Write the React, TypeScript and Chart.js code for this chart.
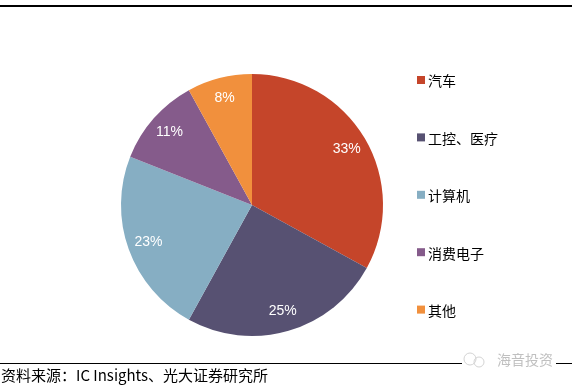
import React, { useEffect, useRef } from "react";
import { Chart, registerables } from "chart.js";

Chart.register(...registerables);

const categories = ["汽车", "工控、医疗", "计算机", "消费电子", "其他"];
const shares = [33, 25, 23, 11, 8];
const colors = ["#C5452A", "#575172", "#86AEC3", "#855B8B", "#F1903D"];
const sourceText = "资料来源：IC Insights、光大证券研究所";
const watermarkText = "海音投资";

const decorPlugin = {
  id: "decor",
  afterDraw(chart: any) {
    const ctx = chart.ctx as CanvasRenderingContext2D;
    const meta = chart.getDatasetMeta(0);
    ctx.save();
    // slice labels
    ctx.fillStyle = "#ffffff";
    ctx.font = "14px 'Liberation Sans', Arial, sans-serif";
    ctx.textAlign = "center";
    ctx.textBaseline = "middle";
    meta.data.forEach((arc: any, i: number) => {
      const p = arc.getProps(["x", "y", "startAngle", "endAngle", "outerRadius"], true);
      const mid = (p.startAngle + p.endAngle) / 2;
      const r = p.outerRadius * 0.84;
      ctx.fillText(shares[i] + "%", p.x + Math.cos(mid) * r, p.y + Math.sin(mid) * r);
    });
    // legend
    const lx = 417;
    const y0 = 80;
    const step = 57.4;
    ctx.textAlign = "left";
    ctx.font = "14px 'Noto Sans CJK SC', sans-serif";
    categories.forEach((c, i) => {
      const y = y0 + step * i;
      ctx.fillStyle = colors[i];
      ctx.fillRect(lx, y - 4, 8, 8);
      ctx.fillStyle = "#000000";
      ctx.fillText(c, lx + 11, y + 1);
    });
    // top rule
    ctx.fillStyle = "#000000";
    ctx.fillRect(0, 5, 572, 2);
    // bottom rule
    ctx.fillRect(0, 363, 572, 1);
    // watermark
    ctx.fillStyle = "#ffffff";
    ctx.fillRect(462, 352, 94, 16);
    ctx.strokeStyle = "#d4d4d4";
    ctx.lineWidth = 1;
    ctx.beginPath();
    ctx.arc(470, 359, 6, 0, Math.PI * 2);
    ctx.stroke();
    ctx.beginPath();
    ctx.arc(479, 362, 5, 0, Math.PI * 2);
    ctx.stroke();
    ctx.fillStyle = "#c0c0c0";
    ctx.font = "14px 'Noto Sans CJK SC', sans-serif";
    ctx.fillText(watermarkText, 497, 360);
    // source
    ctx.fillStyle = "#000000";
    ctx.font = "15px 'Noto Sans CJK SC', sans-serif";
    ctx.fillText(sourceText, 1, 375);
    ctx.restore();
  },
};

export default function App() {
  const ref = useRef<HTMLCanvasElement>(null);
  useEffect(() => {
    document.body.style.margin = "0";
    const chart = new Chart(ref.current!, {
      type: "pie",
      data: {
        labels: categories,
        datasets: [
          {
            data: shares,
            backgroundColor: colors,
            borderWidth: 0,
          },
        ],
      },
      options: {
        responsive: false,
        animation: false,
        layout: { padding: { left: 121, right: 189, top: 74, bottom: 51 } },
        plugins: {
          legend: { display: false },
          tooltip: { enabled: false },
        },
      },
      plugins: [decorPlugin],
    });
    return () => chart.destroy();
  }, []);
  return (
    <div style={{ width: 572, height: 387, background: "#fff" }}>
      <canvas ref={ref} width={572} height={387} style={{ display: "block" }} />
    </div>
  );
}
